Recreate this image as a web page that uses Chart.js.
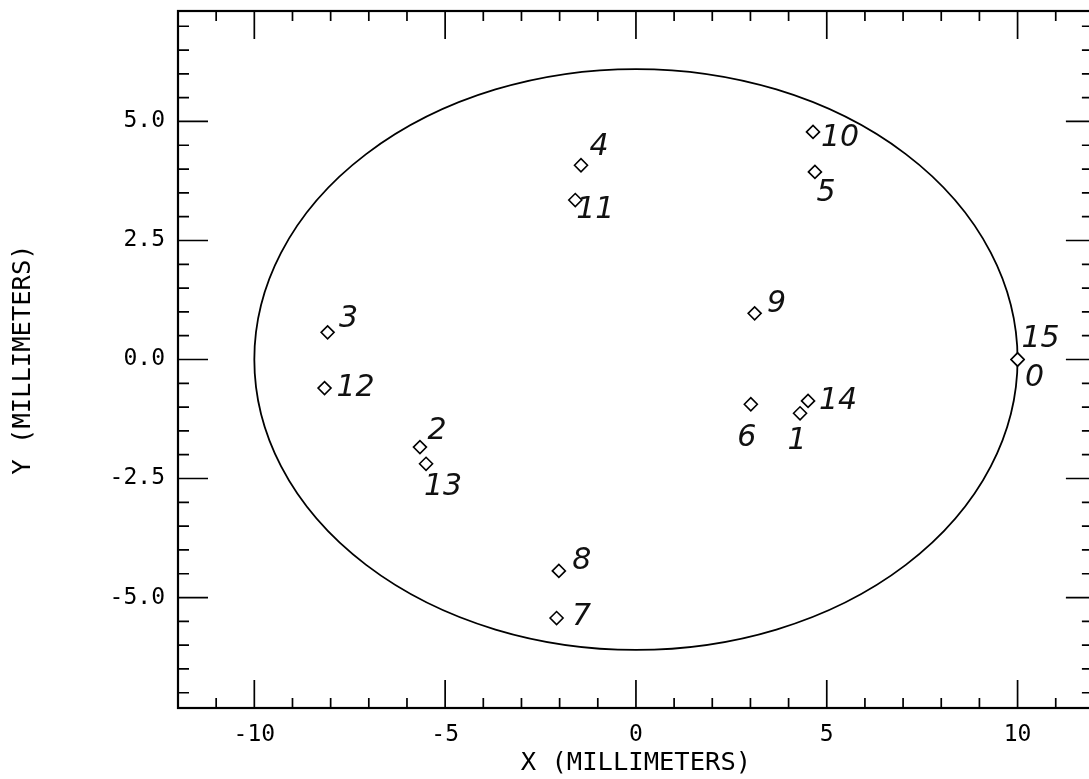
<!DOCTYPE html>
<html>
<head>
<meta charset="utf-8">
<script src="https://cdn.jsdelivr.net/npm/chart.js@4.4.1/dist/chart.umd.min.js"></script>
<style>
  html, body { margin: 0; padding: 0; background: #fff; overflow: hidden; }
  #wrap { width: 1102px; height: 779px; }
</style>
</head>
<body>
<div id="wrap"><canvas id="c" width="1102" height="779"></canvas></div>
<script>
// Measured spot positions, numbered in acquisition order
const pointIds = ['0', '1', '2', '3', '4', '5', '6', '7', '8', '9', '10', '11', '12', '13', '14', '15'];
const xMm = [10.0, 4.30, -5.66, -8.08, -1.44, 4.69, 3.01, -2.08, -2.02, 3.11, 4.64, -1.59, -8.16, -5.50, 4.51, 10.0];
const yMm = [0.00, -1.13, -1.84, 0.57, 4.08, 3.94, -0.94, -5.43, -4.44, 0.97, 4.78, 3.35, -0.60, -2.19, -0.87, 0.00];

// Boundary ellipse: centre x, centre y, semi-axis x, semi-axis y (mm)
const boundary = [0, 0, 10, 6.1];

// Axes
const xRange = [-12, 12];
const yRange = [-7.32, 7.32];
const xTickValues = [-10, -5, 0, 5, 10];
const yTickValues = [-5, -2.5, 0, 2.5, 5];

// Pixel nudges for the hand-written spot numbers
const labelOffsets = [
  [17, 19], [-3, 28], [17, -16], [21, -13], [18, -18], [11, 21], [-4, 34], [25, -1],
  [23, -10], [22, -9], [27, 6], [20, 10], [31, 0], [17, 23], [30, 0], [23, -20]
];

const MONO = "'DejaVu Sans Mono', 'Liberation Mono', monospace";

// Frame, inward tick marks and the boundary ellipse
const frameTicks = {
  id: 'frameTicks',
  beforeDatasetsDraw(chart) {
    const { ctx, chartArea: a, scales: { x, y } } = chart;
    ctx.save();
    ctx.strokeStyle = '#000';
    ctx.lineCap = 'butt';

    const cx = x.getPixelForValue(boundary[0]);
    const cy = y.getPixelForValue(boundary[1]);
    const rx = Math.abs(x.getPixelForValue(boundary[0] + boundary[2]) - cx);
    const ry = Math.abs(y.getPixelForValue(boundary[1] + boundary[3]) - cy);
    ctx.lineWidth = 1.8;
    ctx.beginPath();
    ctx.ellipse(cx, cy, rx, ry, 0, 0, Math.PI * 2);
    ctx.stroke();

    ctx.lineWidth = 2.2;
    ctx.strokeRect(a.left, a.top, a.right - a.left, a.bottom - a.top);

    ctx.lineWidth = 1.7;
    ctx.beginPath();
    for (let v = Math.ceil(xRange[0]) + 1; v < xRange[1]; v++) {
      const major = xTickValues.includes(v);
      const px = x.getPixelForValue(v);
      const len = major ? 28 : 10;
      ctx.moveTo(px, a.bottom); ctx.lineTo(px, a.bottom - len);
      ctx.moveTo(px, a.top); ctx.lineTo(px, a.top + len);
    }
    for (let i = -14; i <= 14; i++) {
      const v = i / 2;
      const major = yTickValues.includes(v);
      const py = y.getPixelForValue(v);
      ctx.moveTo(a.left, py); ctx.lineTo(a.left + (major ? 30 : 11), py);
      ctx.moveTo(a.right, py); ctx.lineTo(a.right - (major ? 28 : 12), py);
    }
    ctx.stroke();
    ctx.restore();
  }
};

// Spot numbers written next to each marker
const idLabels = {
  id: 'idLabels',
  afterDatasetsDraw(chart) {
    const { ctx } = chart;
    const pts = chart.getDatasetMeta(0).data;
    ctx.save();
    ctx.fillStyle = '#111';
    ctx.font = "italic 30px 'DejaVu Sans', sans-serif";
    ctx.textAlign = 'center';
    ctx.textBaseline = 'middle';
    pts.forEach((p, i) => {
      const [dx, dy] = labelOffsets[i];
      ctx.fillText(pointIds[i], p.x + dx, p.y + dy);
    });
    ctx.restore();
  }
};

new Chart(document.getElementById('c'), {
  type: 'scatter',
  data: {
    datasets: [{
      data: xMm.map((v, i) => ({ x: v, y: yMm[i] })),
      pointStyle: 'rectRot',
      pointRadius: 6.5,
      pointHoverRadius: 6.5,
      borderColor: '#000',
      backgroundColor: '#fff',
      borderWidth: 1.6
    }]
  },
  options: {
    responsive: false,
    animation: false,
    devicePixelRatio: 1,
    layout: { padding: { top: 11, right: 5, left: 0, bottom: 0 } },
    plugins: { legend: { display: false }, tooltip: { enabled: false } },
    scales: {
      x: {
        type: 'linear',
        min: xRange[0], max: xRange[1],
        grid: { display: false, drawTicks: false },
        border: { display: false },
        afterBuildTicks: s => { s.ticks = xTickValues.map(v => ({ value: v })); },
        afterFit: s => { s.height = 71; s.paddingLeft = 0; s.paddingRight = 0; },
        ticks: {
          padding: 13, color: '#000', maxRotation: 0, autoSkip: false,
          font: { family: MONO, size: 23 },
          callback: v => Number(v).toFixed(0)
        },
        title: {
          display: true, text: 'X (MILLIMETERS)', color: '#000',
          font: { family: MONO, size: 25.5 }, padding: { top: 0, bottom: 0 }
        }
      },
      y: {
        type: 'linear',
        min: yRange[0], max: yRange[1],
        grid: { display: false, drawTicks: false },
        border: { display: false },
        afterBuildTicks: s => { s.ticks = yTickValues.map(v => ({ value: v })); },
        afterFit: s => { s.width = 178; s.paddingTop = 0; s.paddingBottom = 0; },
        ticks: {
          padding: 13, color: '#000', autoSkip: false,
          font: { family: MONO, size: 23 },
          callback: v => Number(v).toFixed(1)
        },
        title: {
          display: true, text: 'Y (MILLIMETERS)', color: '#000',
          font: { family: MONO, size: 25.5 }, padding: { top: 8, bottom: 8 }
        }
      }
    }
  },
  plugins: [frameTicks, idLabels]
});
</script>
</body>
</html>
